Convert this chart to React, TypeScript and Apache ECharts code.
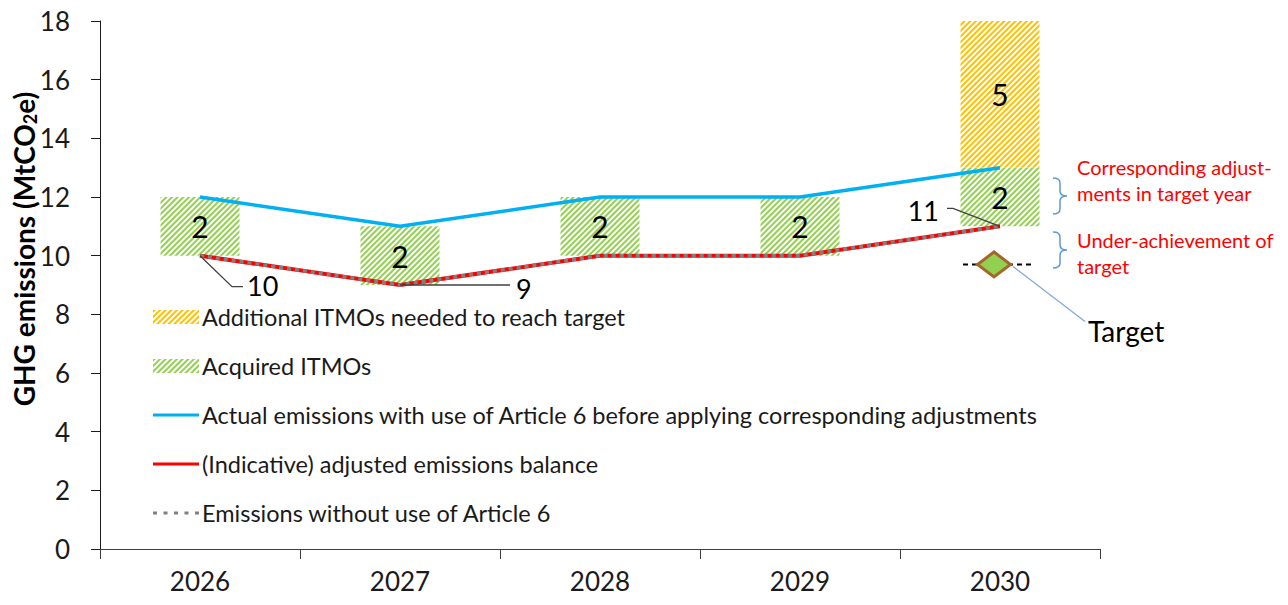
import React, { useEffect, useRef } from "react";
import * as echarts from "echarts";

// ---- data ----
const years = ["2026", "2027", "2028", "2029", "2030"];
const adjustedBalance = [10, 9, 10, 10, 11];
const acquiredITMOs = [2, 2, 2, 2, 2];
const additionalITMOs = [0, 0, 0, 0, 5];
const actualEmissions = [12, 11, 12, 12, 13];
const withoutArticle6 = [10, 9, 10, 10, 11];
const targetYearIndex = 4;
const targetValue = 9.7;
const yMin = 0;
const yMax = 18;
const yInterval = 2;
const labelledPoints = [0, 1, 4];

const NAME_ADD = "Additional ITMOs needed to reach target";
const NAME_ACQ = "Acquired ITMOs";
const NAME_ACT = "Actual emissions with use of Article 6 before applying corresponding adjustments";
const NAME_ADJ = "(Indicative) adjusted emissions balance";
const NAME_WO = "Emissions without use of Article 6";

const FONT = "Lato, 'Open Sans', sans-serif";

echarts.graphic.registerShape(
  "brace",
  echarts.graphic.extendPath("M0,0 Q7,0 7,5 L7,13 Q7,18 14,18 Q7,18 7,23 L7,31 Q7,36 0,36", {})
);

const hatch = (color: string) => ({
  symbol: "rect",
  symbolSize: 1,
  color,
  backgroundColor: "#ffffff",
  dashArrayX: [1, 0],
  dashArrayY: [1.5, 1.4],
  rotation: -Math.PI / 4,
});

const LINE_ICON = "path://M0,0H46V3H0Z";
const DOT_ICON = "path://M0,0H4V3H0Z M10.5,0H14.5V3H10.5Z M21,0H25V3H21Z M31.5,0H35.5V3H31.5Z M42,0H46V3H42Z";

export default function App() {
  const ref = useRef<HTMLDivElement>(null);

  useEffect(() => {
    if (!ref.current) return;
    const chart = echarts.init(ref.current, null, { renderer: "svg" });
    const option: any = {
      animation: false,
      textStyle: { fontFamily: FONT },
      grid: { left: 100, right: 188, top: 21, bottom: 56 },
      legend: {
        orient: "vertical",
        left: 148,
        top: 300,
        itemWidth: 46,
        itemHeight: 14,
        itemGap: 25,
        selectedMode: false,
        data: [
          { name: NAME_ADD, icon: "rect" },
          { name: NAME_ACQ, icon: "rect" },
          { name: NAME_ACT, icon: LINE_ICON },
          { name: NAME_ADJ, icon: LINE_ICON },
          { name: NAME_WO, icon: DOT_ICON },
        ],
        textStyle: { fontSize: 23.5, lineHeight: 24, color: "#1a1a1a", fontFamily: FONT, padding: [0, 0, 0, -2] },
      },
      xAxis: {
        type: "category",
        data: years,
        axisLine: { lineStyle: { color: "#404040", width: 1 } },
        axisTick: { show: true, length: 10, lineStyle: { color: "#404040" } },
        axisLabel: { fontSize: 26, color: "#1a1a1a", margin: 19, fontFamily: FONT },
        splitLine: { show: false },
      },
      yAxis: {
        type: "value",
        min: yMin,
        max: yMax,
        interval: yInterval,
        axisLine: { show: true, lineStyle: { color: "#1a1a1a", width: 1 } },
        axisTick: { show: true, length: 9, lineStyle: { color: "#1a1a1a" } },
        axisLabel: { fontSize: 26, color: "#1a1a1a", margin: 30, fontFamily: FONT },
        splitLine: { show: false },
      },
      series: [
        {
          name: "base",
          type: "bar",
          stack: "itmo",
          data: adjustedBalance,
          barWidth: 79,
          silent: true,
          itemStyle: { color: "rgba(0,0,0,0)" },
          label: { show: false },
        },
        {
          name: NAME_ACQ,
          type: "bar",
          stack: "itmo",
          data: acquiredITMOs,
          barWidth: 79,
          itemStyle: { color: "#ffffff", decal: hatch("#92d050") },
          label: { show: true, position: "inside", fontSize: 30, color: "#000", fontFamily: FONT },
        },
        {
          name: NAME_ADD,
          type: "bar",
          stack: "itmo",
          data: additionalITMOs,
          barWidth: 79,
          itemStyle: { color: "#ffffff", decal: hatch("#ffc000") },
          label: {
            show: true,
            position: "inside",
            fontSize: 30,
            color: "#000",
            fontFamily: FONT,
            formatter: (p: any) => (p.value ? String(p.value) : ""),
          },
        },
        {
          name: NAME_ACT,
          type: "line",
          data: actualEmissions,
          symbol: "none",
          lineStyle: { color: "#00b0f0", width: 3.5 },
          itemStyle: { color: "#00b0f0" },
          z: 5,
        },
        {
          name: NAME_ADJ,
          type: "line",
          data: adjustedBalance,
          symbol: "none",
          lineStyle: { color: "#ff0000", width: 4 },
          itemStyle: { color: "#ff0000" },
          z: 5,
        },
        {
          name: NAME_WO,
          type: "line",
          data: withoutArticle6,
          symbol: "none",
          lineStyle: { color: "#808080", width: 3.5, type: [4, 4] },
          itemStyle: { color: "#808080" },
          z: 6,
        },
        {
          name: "Target",
          type: "scatter",
          data: [[targetYearIndex, targetValue]],
          symbol: "diamond",
          symbolSize: [33, 25],
          symbolOffset: [-6, 0],
          itemStyle: { color: "#92d050", borderColor: "#a5662b", borderWidth: 3, opacity: 1 },
          z: 8,
        },
      ],
    };
    chart.setOption(option);

    const px = (i: number, v: number) => chart.convertToPixel({ gridIndex: 0 }, [i, v]) as number[];
    const graphics: any[] = [];

    // value labels with leader lines
    const offsets: Record<number, { pts: number[][]; tx: number; ty: number; align: string }> = {
      0: { pts: [[0, 0], [32, 31], [43, 31]], tx: 47, ty: 30, align: "left" },
      1: { pts: [[0, 0], [110, 0]], tx: 116, ty: 3, align: "left" },
      4: { pts: [[0, 0], [-47, -18], [-53, -18]], tx: -61, ty: -16, align: "right" },
    };
    labelledPoints.forEach((i) => {
      const [x, y] = px(i, adjustedBalance[i]);
      const o = offsets[i];
      graphics.push({
        type: "polyline",
        shape: { points: o.pts.map(([dx, dy]) => [x + dx, y + dy]) },
        style: { stroke: "#404040", lineWidth: 1.3, fill: null },
        z: 20,
      });
      graphics.push({
        type: "text",
        x: x + o.tx,
        y: y + o.ty,
        style: {
          text: String(adjustedBalance[i]),
          fontSize: 27,
          lineHeight: 26,
          fontFamily: FONT,
          fill: "#000",
          textAlign: o.align,
          textVerticalAlign: "middle",
        },
        z: 20,
      });
    });

    // target dashed line and label
    const [tx, ty] = px(targetYearIndex, targetValue);
    graphics.push({
      type: "line",
      shape: { x1: tx - 37, y1: ty, x2: tx + 35, y2: ty },
      style: { stroke: "#000", lineWidth: 2, lineDash: [5, 4] },
      z: 1,
    });
    graphics.push({
      type: "line",
      shape: { x1: tx + 13, y1: ty + 2, x2: tx + 85, y2: ty + 57 },
      style: { stroke: "#7ea6d8", lineWidth: 1.2 },
      z: 20,
    });
    graphics.push({
      type: "text",
      x: tx + 88,
      y: ty + 67,
      style: { text: "Target", fontSize: 28, fontFamily: FONT, fill: "#000", textAlign: "left", textVerticalAlign: "middle" },
      z: 20,
    });

    // braces and annotations
    graphics.push({ type: "brace", x: 1053, y: 178, style: { stroke: "#5b9bd5", lineWidth: 1.5, fill: null }, z: 20 });
    graphics.push({ type: "brace", x: 1053, y: 232, style: { stroke: "#5b9bd5", lineWidth: 1.5, fill: null }, z: 20 });
    graphics.push({
      type: "text",
      x: 1077,
      y: 180,
      style: {
        text: "Corresponding adjust-\nments in target year",
        fontSize: 20,
        lineHeight: 26,
        fontFamily: FONT,
        fill: "#ff0000",
        textAlign: "left",
        textVerticalAlign: "middle",
      },
      z: 20,
    });
    graphics.push({
      type: "text",
      x: 1077,
      y: 253,
      style: {
        text: "Under-achievement of\ntarget",
        fontSize: 20,
        lineHeight: 26,
        fontFamily: FONT,
        fill: "#ff0000",
        textAlign: "left",
        textVerticalAlign: "middle",
      },
      z: 20,
    });

    // y-axis title
    graphics.push({
      type: "text",
      x: 24,
      y: 249,
      rotation: Math.PI / 2,
      style: {
        text: "{a|GHG emissions (MtCO}{s|2}{a|e)}",
        textAlign: "center",
        textVerticalAlign: "middle",
        rich: {
          a: { fontSize: 28, fontWeight: "bold", fontFamily: FONT, fill: "#000", color: "#000" },
          s: { fontSize: 18, fontWeight: "bold", fontFamily: FONT, fill: "#000", color: "#000", padding: [11, 0, 0, 0] },
        },
      },
      z: 20,
    });

    chart.setOption({ graphic: graphics });
    return () => chart.dispose();
  }, []);

  return (
    <div
      ref={ref}
      style={{ position: "fixed", left: 0, top: 0, width: 1288, height: 605, background: "#fff" }}
    />
  );
}
